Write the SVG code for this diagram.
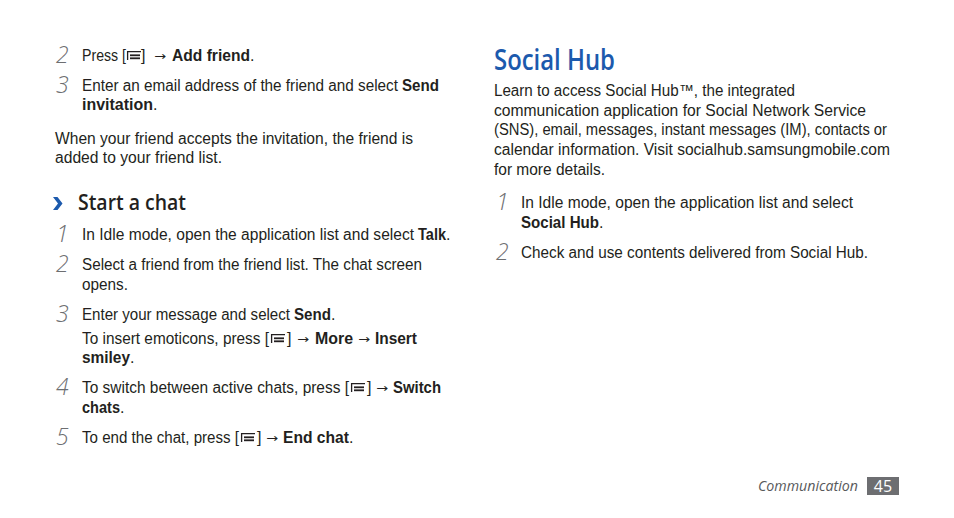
<svg xmlns="http://www.w3.org/2000/svg" width="954" height="518" viewBox="0 0 954 518">
<style>
.t{font-family:"Liberation Sans","Noto Sans",sans-serif;font-size:16px;fill:#231f20}
.b{font-weight:bold}
.ar{font-family:"DejaVu Sans","Liberation Sans",sans-serif;font-size:12px;fill:#231f20}
.n{font-family:"Open Sans","Liberation Sans",sans-serif;font-style:italic;font-weight:300;font-size:23px;fill:#6d6e71}
.h{font-family:"Open Sans","Liberation Sans",sans-serif;font-weight:600;font-size:22px;fill:#231f20}
.title{font-family:"Open Sans","Liberation Sans",sans-serif;font-weight:600;font-size:28px;fill:#1c5aad}
.foot{font-family:"Open Sans","Liberation Sans",sans-serif;font-style:italic;font-size:15px;fill:#58595b}
.ic{fill:none;stroke:#231f20;stroke-width:1.3}
.bar{fill:#231f20}
</style>
<defs>
<g id="menu">
<path class="ic" d="M0.6,9 V0.6 H14"/>
<rect class="bar" x="3" y="3.4" width="10" height="1.8"/>
<rect class="bar" x="3" y="6.4" width="10" height="1.8"/>
</g>
</defs>
<rect width="954" height="518" fill="#ffffff"/>

<g id="step-add-friend-2">
<text class="n" x="56" y="63">2</text>
<text class="t" x="82" y="61" textLength="44" lengthAdjust="spacingAndGlyphs">Press [</text>
<use href="#menu" x="127" y="51"/>
<text class="t" x="141" y="61">]</text>
<text class="ar" x="154" y="60" textLength="12" lengthAdjust="spacingAndGlyphs">→</text>
<text class="t b" x="172" y="61" textLength="78" lengthAdjust="spacingAndGlyphs">Add friend</text>
<text class="t" x="250" y="61">.</text>
</g>

<g id="step-add-friend-3">
<text class="n" x="56" y="93">3</text>
<text class="t" x="82" y="91" textLength="316" lengthAdjust="spacingAndGlyphs">Enter an email address of the friend and select</text>
<text class="t b" x="402" y="91" textLength="37" lengthAdjust="spacingAndGlyphs">Send</text>
<text class="t b" x="82" y="110" textLength="71" lengthAdjust="spacingAndGlyphs">invitation</text>
<text class="t" x="153" y="110">.</text>
</g>

<g id="note-accept">
<text class="t" x="55" y="144" textLength="358" lengthAdjust="spacingAndGlyphs">When your friend accepts the invitation, the friend is</text>
<text class="t" x="55" y="163" textLength="167" lengthAdjust="spacingAndGlyphs">added to your friend list.</text>
</g>

<g id="heading-start-chat">
<polygon points="53,197 57.5,197 62.5,203.5 57.5,210 53,210 58,203.5" fill="#1c5aad"/>
<text class="h" x="78" y="210" textLength="108" lengthAdjust="spacingAndGlyphs">Start a chat</text>
</g>

<g id="step-chat-1">
<text class="n" x="56" y="242">1</text>
<text class="t" x="82" y="240" textLength="332" lengthAdjust="spacingAndGlyphs">In Idle mode, open the application list and select</text>
<text class="t b" x="418" y="240" textLength="28" lengthAdjust="spacingAndGlyphs">Talk</text>
<text class="t" x="446" y="240">.</text>
</g>

<g id="step-chat-2">
<text class="n" x="56" y="272">2</text>
<text class="t" x="82" y="270" textLength="340" lengthAdjust="spacingAndGlyphs">Select a friend from the friend list. The chat screen</text>
<text class="t" x="82" y="290" textLength="46" lengthAdjust="spacingAndGlyphs">opens.</text>
</g>

<g id="step-chat-3">
<text class="n" x="56" y="322">3</text>
<text class="t" x="82" y="320" textLength="208" lengthAdjust="spacingAndGlyphs">Enter your message and select</text>
<text class="t b" x="294" y="320" textLength="37" lengthAdjust="spacingAndGlyphs">Send</text>
<text class="t" x="331" y="320">.</text>
<text class="t" x="82" y="344" textLength="187" lengthAdjust="spacingAndGlyphs">To insert emoticons, press [</text>
<use href="#menu" x="271" y="334"/>
<text class="t" x="287" y="344">]</text>
<text class="ar" x="297" y="343" textLength="12" lengthAdjust="spacingAndGlyphs">→</text>
<text class="t b" x="315" y="344" textLength="38" lengthAdjust="spacingAndGlyphs">More</text>
<text class="ar" x="358" y="343" textLength="12" lengthAdjust="spacingAndGlyphs">→</text>
<text class="t b" x="375" y="344" textLength="42" lengthAdjust="spacingAndGlyphs">Insert</text>
<text class="t b" x="82" y="363" textLength="48" lengthAdjust="spacingAndGlyphs">smiley</text>
<text class="t" x="130" y="363">.</text>
</g>

<g id="step-chat-4">
<text class="n" x="56" y="395">4</text>
<text class="t" x="82" y="393" textLength="267" lengthAdjust="spacingAndGlyphs">To switch between active chats, press [</text>
<use href="#menu" x="351" y="383"/>
<text class="t" x="367" y="393">]</text>
<text class="ar" x="376" y="392" textLength="12" lengthAdjust="spacingAndGlyphs">→</text>
<text class="t b" x="393" y="393" textLength="48" lengthAdjust="spacingAndGlyphs">Switch</text>
<text class="t b" x="82" y="413" textLength="38" lengthAdjust="spacingAndGlyphs">chats</text>
<text class="t" x="120" y="413">.</text>
</g>

<g id="step-chat-5">
<text class="n" x="56" y="445">5</text>
<text class="t" x="82" y="443" textLength="157" lengthAdjust="spacingAndGlyphs">To end the chat, press [</text>
<use href="#menu" x="241" y="433"/>
<text class="t" x="257" y="443">]</text>
<text class="ar" x="266" y="442" textLength="12" lengthAdjust="spacingAndGlyphs">→</text>
<text class="t b" x="283" y="443" textLength="66" lengthAdjust="spacingAndGlyphs">End chat</text>
<text class="t" x="349" y="443">.</text>
</g>

<g id="title-social-hub">
<text class="title" x="494" y="70" textLength="121" lengthAdjust="spacingAndGlyphs">Social Hub</text>
</g>

<g id="intro-social-hub">
<text class="t" x="494" y="96" textLength="301" lengthAdjust="spacingAndGlyphs">Learn to access Social Hub™, the integrated</text>
<text class="t" x="494" y="116" textLength="372" lengthAdjust="spacingAndGlyphs">communication application for Social Network Service</text>
<text class="t" x="494" y="135" textLength="393" lengthAdjust="spacingAndGlyphs">(SNS), email, messages, instant messages (IM), contacts or</text>
<text class="t" x="494" y="155" textLength="396" lengthAdjust="spacingAndGlyphs">calendar information. Visit socialhub.samsungmobile.com</text>
<text class="t" x="494" y="175" textLength="111" lengthAdjust="spacingAndGlyphs">for more details.</text>
</g>

<g id="step-hub-1">
<text class="n" x="496" y="210">1</text>
<text class="t" x="521" y="208" textLength="332" lengthAdjust="spacingAndGlyphs">In Idle mode, open the application list and select</text>
<text class="t b" x="521" y="228" textLength="78" lengthAdjust="spacingAndGlyphs">Social Hub</text>
<text class="t" x="599" y="228">.</text>
</g>

<g id="step-hub-2">
<text class="n" x="496" y="260">2</text>
<text class="t" x="521" y="258" textLength="347" lengthAdjust="spacingAndGlyphs">Check and use contents delivered from Social Hub.</text>
</g>

<g id="footer">
<text class="foot" x="758" y="491" textLength="100" lengthAdjust="spacingAndGlyphs">Communication</text>
<rect x="867" y="477" width="32" height="18" fill="#6d6e71"/>
<text x="883" y="492" text-anchor="middle" font-family="'Open Sans','Liberation Sans',sans-serif" font-size="16" fill="#ffffff">45</text>
</g>

<g id="connectors"/>
</svg>
